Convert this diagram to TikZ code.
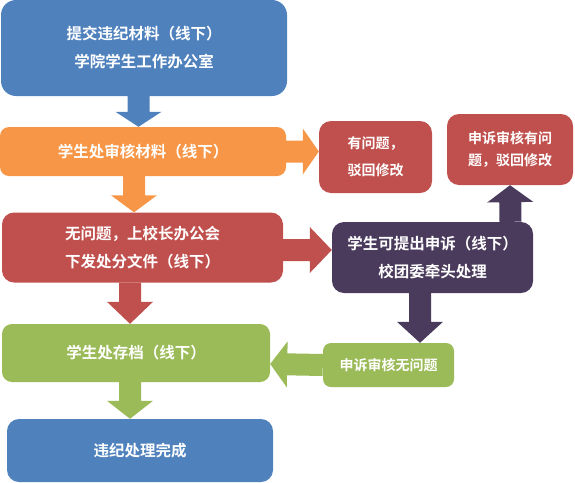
\documentclass[tikz,border=0pt]{standalone}
\usepackage{fontspec}
\setmainfont{Noto Sans CJK SC Bold}
\usetikzlibrary{calc}
\definecolor{Blue}{HTML}{4F81BD}
\definecolor{Orange}{HTML}{F79646}
\definecolor{Red}{HTML}{C0504D}
\definecolor{Green}{HTML}{9BBB59}
\definecolor{Purple}{HTML}{4A3B5C}

\tikzset{
  box/.style={rectangle,rounded corners=12pt,text=white,inner sep=0pt,
    font=\fontsize{15.5}{28}\selectfont,align=center},
  smallbox/.style={box,font=\fontsize{14}{27}\selectfont},
  % block arrow: colour, head length
  flow/.style 2 args={fill=#1,to path={
    ($(\tikztostart)!11pt!90:(\tikztotarget)$)
    -- ($($(\tikztotarget)!#2!(\tikztostart)$)!11pt!90:(\tikztotarget)$)
    -- ($($(\tikztotarget)!#2!(\tikztostart)$)!23pt!90:(\tikztotarget)$)
    -- (\tikztotarget)
    -- ($($(\tikztotarget)!#2!(\tikztostart)$)!23pt!-90:(\tikztotarget)$)
    -- ($($(\tikztotarget)!#2!(\tikztostart)$)!11pt!-90:(\tikztotarget)$)
    -- ($(\tikztostart)!11pt!-90:(\tikztotarget)$) -- cycle}}
}

\begin{document}
\begin{tikzpicture}[x=1pt,y=-1pt]
  \useasboundingbox (0,0) rectangle (575,482);
  % left column
  \node[box,fill=Blue,minimum width=286pt,minimum height=96pt,rounded corners=15pt]
    (submit) at (144,48) {提交违纪材料（线下）\\学院学生工作办公室};
  \node[box,fill=Orange,minimum width=286pt,minimum height=49pt,rounded corners=9pt]
    (check) at (143,151.5) {学生处审核材料（线下）};
  \node[box,fill=Red,minimum width=281pt,minimum height=70pt]
    (noissue) at (142.5,247.5) {无问题，上校长办公会\\下发处分文件（线下）};
  \node[box,fill=Green,minimum width=268pt,minimum height=58pt,rounded corners=10pt]
    (store) at (136,353) {学生处存档（线下）};
  \node[box,fill=Blue,minimum width=266pt,minimum height=63pt]
    (done) at (140,450.5) {违纪处理完成};
  % right side
  \node[smallbox,fill=Red,minimum width=113pt,minimum height=72pt,align=left]
    (reject) at (375.5,157) {有问题，\\驳回修改};
  \node[smallbox,fill=Red,minimum width=126pt,minimum height=71pt,
    font=\fontsize{14}{22}\selectfont]
    (appealno) at (510,149.5) {申诉审核有问\\题，驳回修改};
  \node[box,fill=Purple,minimum width=201pt,minimum height=71pt]
    (appeal) at (432.5,257.5) {学生可提出申诉（线下）\\校团委牵头处理};
  \node[smallbox,fill=Green,minimum width=131pt,minimum height=44pt,rounded corners=8pt]
    (appealok) at (388.5,365) {申诉审核无问题};

  % block arrows
  \path[flow={Blue}{15pt}] ([xshift=-5.5pt]submit.south) to ([xshift=-4.5pt]check.north);
  \path[flow={Orange}{17pt}] ([xshift=-9pt]check.south) to ([xshift=-8.5pt]noissue.north);
  \path[flow={Red}{22pt}] ([xshift=-12.5pt]noissue.south) to ([xshift=-6pt]store.north);
  \path[flow={Green}{18pt}] ([xshift=-6pt]store.south) to ([xshift=-10pt]done.north);
  \path[flow={Orange}{16pt}] (check.east) to ([yshift=5.5pt]reject.west);
  \path[flow={Red}{22pt}] ([yshift=-2.5pt]noissue.east) to ([yshift=7.5pt]appeal.west);
  \path[flow={Purple}{17pt}] ([xshift=78pt]appeal.north) to (appealno.south);
  \path[flow={Purple}{21pt}] ([xshift=-12.5pt]appeal.south) to ([xshift=31.5pt]appealok.north);
  \path[flow={Green}{17pt}] (appealok.west) to ([yshift=-11pt]store.east);
\end{tikzpicture}
\end{document}
